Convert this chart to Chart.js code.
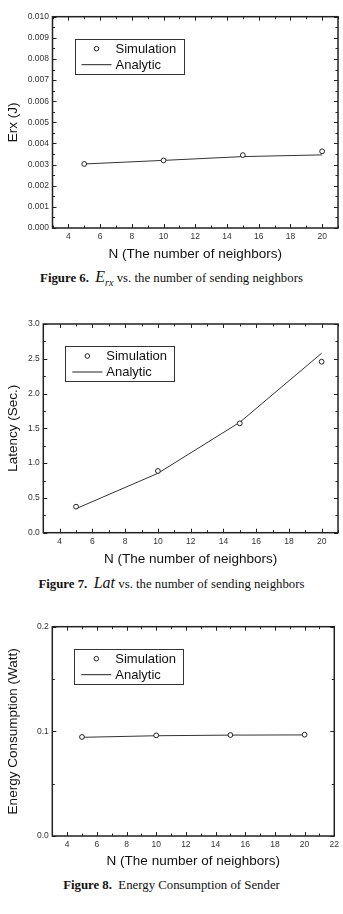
<!DOCTYPE html>
<html>
<head>
<meta charset="utf-8">
<script src="https://cdn.jsdelivr.net/npm/chart.js@4.4.1/dist/chart.umd.min.js"></script>
<style>
  body { margin: 0; width: 343px; height: 914px; background: #fff; position: relative; overflow: hidden; }
  canvas { position: absolute; left: 0; }
  .cap { position: absolute; left: 0; width: 343px; text-align: center; white-space: nowrap;
         font-family: "Liberation Serif", "Times New Roman", serif; font-size: 12.8px; line-height: 16px; color: #111; }
  .cap b { font-weight: bold; }
  .cap .m { font-style: italic; font-size: 16px; }
  .cap sub { font-size: 10px; }
</style>
</head>
<body>
<canvas id="erx" width="343" height="262" style="top:0px"></canvas>
<div class="cap" style="top:269px"><b>Figure 6.</b>&nbsp;&nbsp;<span class="m">E<sub>rx</sub></span> vs. the number of sending neighbors</div>

<canvas id="lat" width="343" height="267" style="top:300px"></canvas>
<div class="cap" style="top:575px"><b>Figure 7.</b>&nbsp;&nbsp;<span class="m">Lat</span> vs. the number of sending neighbors</div>

<canvas id="energy" width="343" height="259" style="top:610px"></canvas>
<div class="cap" style="top:877px"><b>Figure 8.</b>&nbsp;&nbsp;Energy Consumption of Sender</div>

<script>
// values
const nValues = [5, 10, 15, 20];

const erxSimulation = [0.00303, 0.0032, 0.00345, 0.00363];
const erxAnalytic = [0.00303, 0.0032, 0.00338, 0.00346];

const latSimulation = [0.374, 0.887, 1.572, 2.458];
const latAnalytic = [0.345, 0.854, 1.587, 2.58];

const energySimulation = [0.0946, 0.0962, 0.0965, 0.0968];
const energyAnalytic = [0.0943, 0.0958, 0.0964, 0.0966];

const xTicksTo20 = [4, 6, 8, 10, 12, 14, 16, 18, 20];
const xTicksTo22 = [4, 6, 8, 10, 12, 14, 16, 18, 20, 22];
const erxTicks = [0, 0.001, 0.002, 0.003, 0.004, 0.005, 0.006, 0.007, 0.008, 0.009, 0.01];
const latTicks = [0, 0.5, 1, 1.5, 2, 2.5, 3];
const energyTicks = [0, 0.1, 0.2];

const FONT = '"Liberation Sans", Arial, sans-serif';
const INK = "#222";

// Origin-style frame: box + inward major/minor ticks on all four sides
const frameTicks = {
  id: "frameTicks",
  afterDatasetsDraw(chart) {
    const { ctx, chartArea: a, scales } = chart;
    ctx.save();
    ctx.strokeStyle = INK;
    ctx.lineWidth = 1;
    const marks = (scale) => {
      const vals = scale.ticks.map((t) => t.value);
      const half = (vals[1] - vals[0]) / 2;
      const out = [];
      for (let k = -4; k <= vals.length * 2 + 4; k++) {
        const v = vals[0] + k * half;
        if (v < scale.min - 1e-9 || v > scale.max + 1e-9) continue;
        out.push({ p: scale.getPixelForValue(v), major: k % 2 === 0 });
      }
      return out;
    };
    ctx.beginPath();
    for (const m of marks(scales.x)) {
      const len = m.major ? 4 : 2.5;
      const px = Math.round(m.p) + 0.5;
      ctx.moveTo(px, a.bottom); ctx.lineTo(px, a.bottom - len);
      ctx.moveTo(px, a.top); ctx.lineTo(px, a.top + len);
    }
    for (const m of marks(scales.y)) {
      const len = m.major ? 4 : 2.5;
      const py = Math.round(m.p) + 0.5;
      ctx.moveTo(a.left, py); ctx.lineTo(a.left + len, py);
      ctx.moveTo(a.right, py); ctx.lineTo(a.right - len, py);
    }
    ctx.stroke();
    ctx.lineWidth = 1.5;
    ctx.strokeRect(a.left, a.top, a.right - a.left, a.bottom - a.top);
    ctx.restore();
  },
};

// boxed legend inside the upper left of the plot
const boxLegend = {
  id: "boxLegend",
  afterDraw(chart) {
    const { ctx, chartArea: a } = chart;
    const x0 = a.left + 22, y0 = a.top + 22, w = 109, h = 35;
    ctx.save();
    ctx.strokeStyle = "#333";
    ctx.lineWidth = 1;
    ctx.strokeRect(Math.round(x0) + 0.5, Math.round(y0) + 0.5, w, h);
    ctx.font = "13px " + FONT;
    ctx.fillStyle = "#111";
    ctx.textBaseline = "middle";
    chart.data.datasets.forEach((ds, i) => {
      const cy = y0 + 10 + i * 16;
      ctx.strokeStyle = INK;
      ctx.beginPath();
      if (ds.showLine) {
        ctx.moveTo(x0 + 7, cy); ctx.lineTo(x0 + 37, cy);
      } else {
        ctx.arc(x0 + 22, cy, 2.3, 0, Math.PI * 2);
      }
      ctx.stroke();
      ctx.fillText(ds.label, x0 + 41, cy + 0.5);
    });
    ctx.restore();
  },
};

function makeChart(id, cfg) {
  const canvas = document.getElementById(id);
  const toPts = (ys) => nValues.map((x, i) => ({ x, y: ys[i] }));
  return new Chart(canvas, {
    type: "scatter",
    data: {
      datasets: [
        {
          label: "Simulation",
          data: toPts(cfg.sim),
          showLine: false,
          pointStyle: "circle",
          pointRadius: 2.4,
          pointBorderWidth: 1,
          pointBackgroundColor: "#fff",
          pointBorderColor: INK,
        },
        {
          label: "Analytic",
          data: toPts(cfg.ana),
          showLine: true,
          borderColor: "#333",
          borderWidth: 1,
          pointRadius: 0,
        },
      ],
    },
    options: {
      responsive: false,
      animation: false,
      devicePixelRatio: 1,
      layout: { padding: { left: 5, top: cfg.top, right: 343 - cfg.right, bottom: 0 } },
      plugins: { legend: { display: false }, tooltip: { enabled: false } },
      scales: {
        x: {
          type: "linear",
          min: 3,
          max: cfg.xMax,
          afterBuildTicks: (scale) => { scale.ticks = cfg.xTicks.map((value) => ({ value })); },
          afterFit: (scale) => { scale.height = canvas.height - cfg.bottom; },
          grid: { display: false, drawTicks: false },
          border: { display: false },
          ticks: { color: "#333", padding: 4, maxRotation: 0, autoSkip: false, font: { family: FONT, size: 8.5 } },
          title: { display: true, text: "N (The number of neighbors)", color: "#111", padding: 0, font: { family: FONT, size: 13.5 } },
        },
        y: {
          type: "linear",
          min: cfg.yTicks[0],
          max: cfg.yTicks[cfg.yTicks.length - 1],
          afterBuildTicks: (scale) => { scale.ticks = cfg.yTicks.map((value) => ({ value })); },
          afterFit: (scale) => { scale.width = cfg.left - 5; },
          grid: { display: false, drawTicks: false },
          border: { display: false },
          ticks: {
            color: "#333",
            padding: 3.5,
            autoSkip: false,
            font: { family: FONT, size: 8.5 },
            callback: (v) => Number(v).toFixed(cfg.decimals),
          },
          title: { display: true, text: cfg.yTitle, color: "#111", padding: 0, font: { family: FONT, size: 13.5 } },
        },
      },
    },
    plugins: [frameTicks, boxLegend],
  });
}

makeChart("erx", {
  sim: erxSimulation, ana: erxAnalytic, yTicks: erxTicks, decimals: 3, yTitle: "Erx (J)",
  xTicks: xTicksTo20, xMax: 21, left: 52.5, right: 341.7, top: 16.7, bottom: 228,
});
makeChart("lat", {
  sim: latSimulation, ana: latAnalytic, yTicks: latTicks, decimals: 1, yTitle: "Latency (Sec.)",
  xTicks: xTicksTo20, xMax: 21, left: 43.3, right: 340, top: 24, bottom: 232.7,
});
makeChart("energy", {
  sim: energySimulation, ana: energyAnalytic, yTicks: energyTicks, decimals: 1, yTitle: "Energy Consumption (Watt)",
  xTicks: xTicksTo22, xMax: 22, left: 52.3, right: 335, top: 16.7, bottom: 226,
});
</script>
</body>
</html>
